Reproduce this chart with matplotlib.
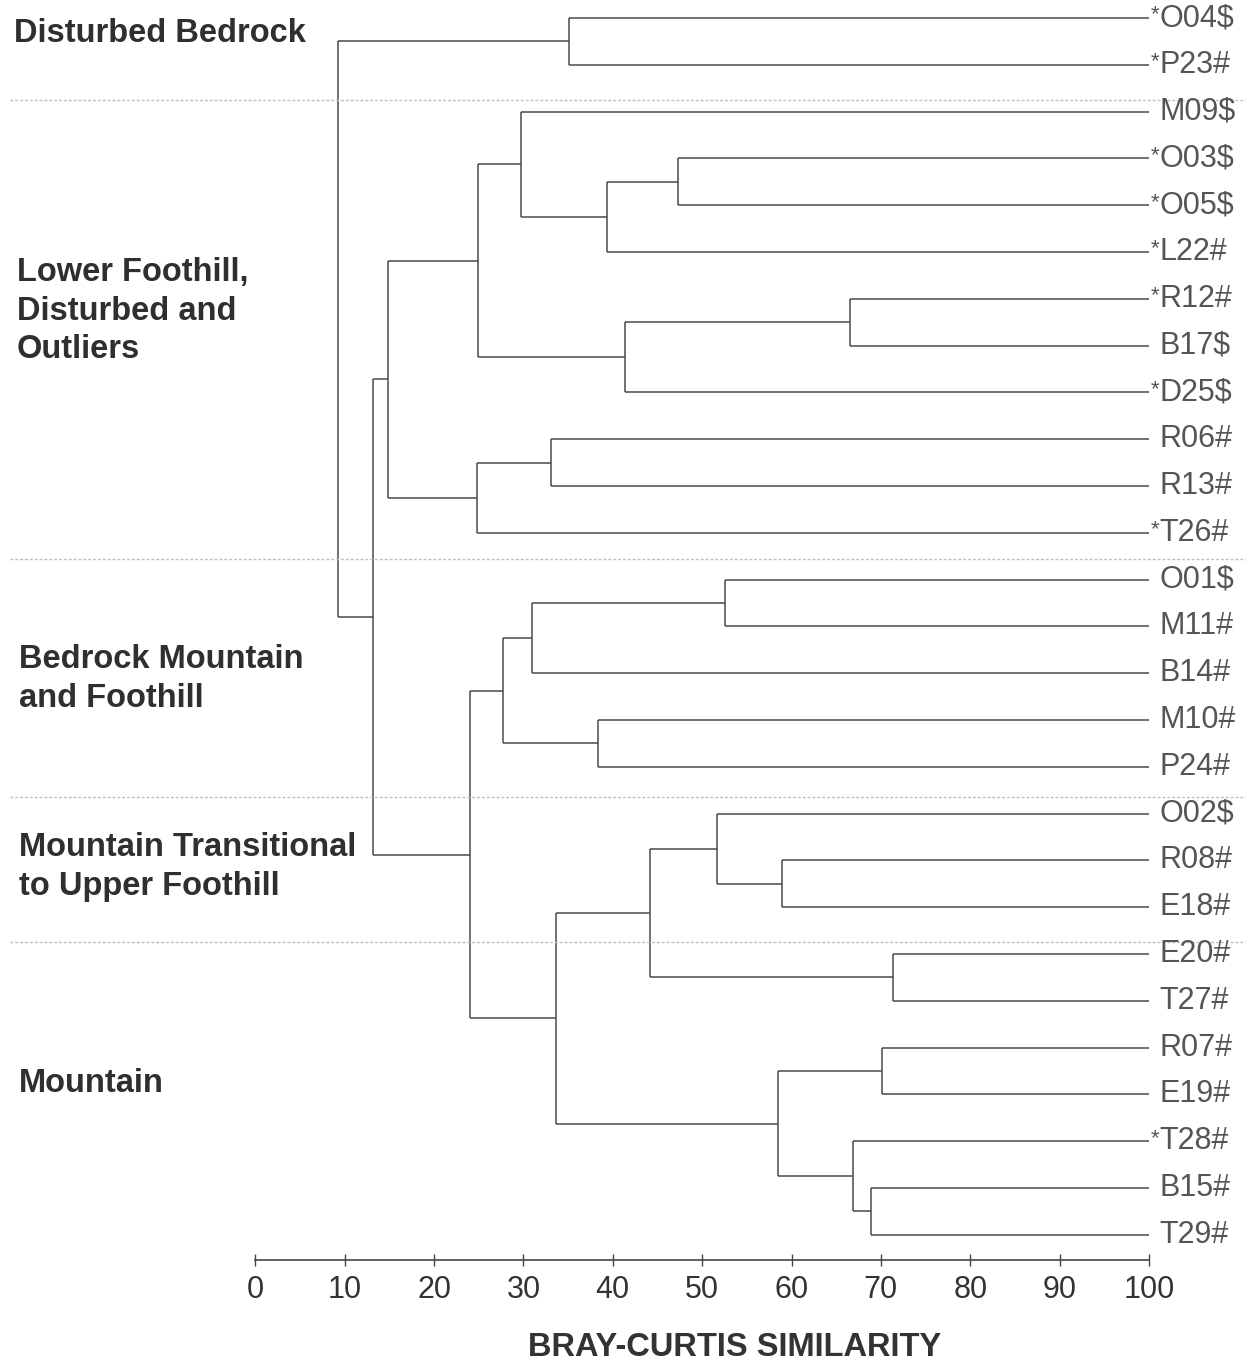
import matplotlib
matplotlib.use("Agg")
import matplotlib.pyplot as plt
import matplotlib.transforms as mtransforms

plt.rcParams['font.family'] = ['Liberation Sans', 'DejaVu Sans']

# Sample sites in dendrogram order (top to bottom)
leaves = ["*O04$", "*P23#", "M09$", "*O03$", "*O05$", "*L22#", "*R12#", "B17$",
          "*D25$", "R06#", "R13#", "*T26#", "O01$", "M11#", "B14#", "M10#",
          "P24#", "O02$", "R08#", "E18#", "E20#", "T27#", "R07#", "E19#",
          "*T28#", "B15#", "T29#"]

# Agglomeration steps: clusters 0..26 are sites, each merge creates id 27, 28, ...
merge_a = [0, 3, 28, 2, 6, 31, 30, 9, 34, 33, 12, 37, 15, 38, 18, 17, 20, 42,
           22, 25, 24, 45, 44, 40, 36, 27]
merge_b = [1, 4, 5, 29, 7, 8, 32, 10, 11, 35, 13, 14, 16, 39, 19, 41, 21, 43,
           23, 26, 46, 47, 48, 49, 50, 51]
merge_sim = [35.1, 47.3, 39.3, 29.7, 66.5, 41.4, 24.9, 33.1, 24.8, 14.9, 52.6,
             31.0, 38.4, 27.7, 58.9, 51.7, 71.4, 44.2, 70.1, 68.9, 66.9, 58.5,
             33.6, 24.0, 13.2, 9.2]

# Habitat groups and the site rows where each group ends
group_names = ["Disturbed Bedrock", "Lower Foothill,\nDisturbed and\nOutliers",
               "Bedrock Mountain\nand Foothill", "Mountain Transitional\nto Upper Foothill",
               "Mountain"]
group_breaks = [1.75, 11.55, 16.65, 19.75]

tick_values = list(range(0, 101, 10))

W, H = 1255, 1364
fig = plt.figure(figsize=(W / 100, H / 100), dpi=100)
ax = fig.add_axes([255.3 / W, 1 - 1260 / H, 893.7 / W, 1260 / H])
ax.set_xlim(0, 100)
ax.set_ylim(26.538, -0.385)

line_kw = dict(color='#4a4a4a', lw=1.1, solid_capstyle='butt')

n = len(leaves)
ypos = {i: float(i) for i in range(n)}
xpos = {i: 100.0 for i in range(n)}
for k, (a, b, s) in enumerate(zip(merge_a, merge_b, merge_sim)):
    cid = n + k
    # horizontal arms from the children to the merge level
    ax.plot([s, xpos[a]], [ypos[a], ypos[a]], **line_kw)
    ax.plot([s, xpos[b]], [ypos[b], ypos[b]], **line_kw)
    # vertical connector
    ax.plot([s, s], [ypos[a], ypos[b]], **line_kw)
    ypos[cid] = (ypos[a] + ypos[b]) / 2
    xpos[cid] = s

# Site labels
for i, name in enumerate(leaves):
    core = name.lstrip('*')
    ax.annotate(core, xy=(100, i), xytext=(10, 0), textcoords='offset pixels',
                ha='left', va='center', fontsize=22, color='#555555')
    if name.startswith('*'):
        ax.annotate('*', xy=(100, i), xytext=(10, 3), textcoords='offset pixels',
                    ha='right', va='center', fontsize=16, color='#555555')

# Dotted separators between habitat groups
blend = mtransforms.blended_transform_factory(fig.transFigure, ax.transData)
for yb in group_breaks:
    ax.plot([10 / W, 1245 / W], [yb, yb], transform=blend, clip_on=False,
            color='#bdbdbd', lw=1.0, ls=(0, (2, 1.5)))

# Group names on the left
group_y_px = [33, 311, 679, 867, 1083]
group_x_px = [14, 17, 19, 19, 19]
for name, gx, gy in zip(group_names, group_x_px, group_y_px):
    fig.text(gx / W, 1 - gy / H, name, ha='left', va='center', fontsize=23.5,
             fontweight='bold', color='#2f2f2f', linespacing=1.3)

# Axis styling
for side in ('left', 'right', 'top'):
    ax.spines[side].set_visible(False)
ax.spines['bottom'].set_color('#444444')
ax.spines['bottom'].set_linewidth(1.2)
ax.set_yticks([])
ax.set_xticks(tick_values)
ax.set_xticklabels([str(v) for v in tick_values])
ax.tick_params(axis='x', direction='inout', length=9, width=1.0, colors='#444444',
               labelsize=22, labelcolor='#333333', pad=6)

fig.text(735 / W, 1 - 1348 / H, "BRAY-CURTIS SIMILARITY", ha='center', va='center',
         fontsize=23.5, fontweight='bold', color='#333333')

fig.savefig("out.png", dpi=100)
